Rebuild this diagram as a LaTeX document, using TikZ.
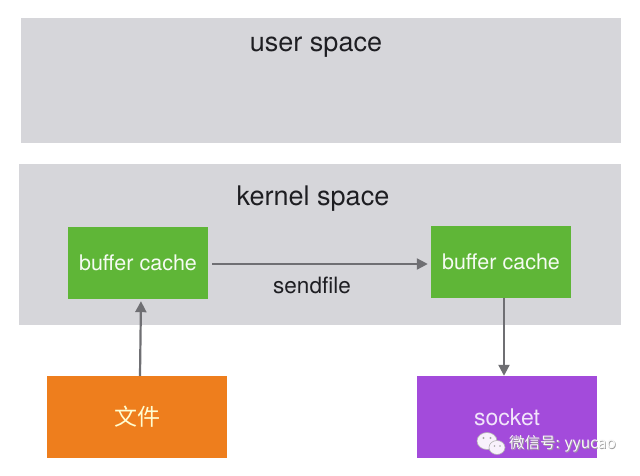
\documentclass[tikz,border=0pt]{standalone}
\usepackage{fontspec}
\setmainfont{TeX Gyre Heros}
\newfontfamily\cjk{Noto Sans CJK SC}
\usetikzlibrary{arrows.meta}

\definecolor{spacegray}{HTML}{D6D6DA}
\definecolor{cachegreen}{HTML}{5FB637}
\definecolor{fileorange}{HTML}{EE7E1D}
\definecolor{sockpurple}{HTML}{A34BDB}
\definecolor{arrowgray}{HTML}{6F6F73}
\definecolor{labeldark}{HTML}{1E1E22}

\tikzset{
  region/.style={rectangle, fill=spacegray, inner sep=0pt},
  regionlabel/.style={text=labeldark, font=\fontsize{27}{29}\selectfont},
  cachebox/.style={rectangle, fill=cachegreen, inner sep=0pt,
    minimum width=140pt, minimum height=72pt,
    text=white!94!cachegreen, font=\fontsize{21.5}{24}\selectfont},
  endbox/.style={rectangle, inner sep=0pt,
    minimum width=180pt, minimum height=82pt},
  flow/.style={draw=arrowgray, line width=2.2pt,
    -{Triangle[length=11pt,width=11pt]}},
  flowlabel/.style={text=labeldark, font=\fontsize{22.5}{24}\selectfont},
  marktext/.style={anchor=west, inner sep=0pt,
    font=\cjk\fontsize{15.5}{17}\selectfont},
}

\begin{document}
\begin{tikzpicture}[x=1pt, y=-1pt]
  \useasboundingbox[fill=white] (0,0) rectangle (640,476);

  % user and kernel regions
  \node[region, minimum width=600pt, minimum height=125pt] (user) at (321,80.5) {};
  \node[regionlabel] (userlabel) at (316,47) {user space};
  \node[region, minimum width=602pt, minimum height=161pt] (kernel) at (320,244.5) {};
  \node[regionlabel] (kernellabel) at (313,199) {kernel space};

  % page caches inside the kernel
  \node[cachebox] (cacheA) at (138,263) {buffer cache};
  \node[cachebox] (cacheB) at (501,261.5) {buffer cache};

  % source file and destination socket
  \node[endbox, fill=fileorange, text=white!82!yellow,
        font=\cjk\fontsize{23}{26}\selectfont] (file) at (137,417) {文件};
  \node[endbox, fill=sockpurple, text=white!85!sockpurple,
        font=\fontsize{23}{26}\selectfont] (sock) at (507,417) {socket};

  % data path
  \draw[flow, shorten >=2pt] ([xshift=3pt]file.north) -- ([xshift=3pt]cacheA.south);
  \draw[flow, shorten <=4pt, shorten >=3pt]
    ([yshift=-1pt]cacheA.east) -- ([yshift=-1pt]cacheA.east -| cacheB.west);
  \node[flowlabel] (sendlabel) at (312,285) {sendfile};
  \draw[flow] ([xshift=3pt]cacheB.south) -- ([xshift=-3pt]sock.north);

  % account watermark
  \begin{scope}[draw=gray!60, fill=white!92!sockpurple, line width=0.6pt]
    \filldraw (487,441) ellipse [x radius=10, y radius=8.5];
    \filldraw (497,447.5) ellipse [x radius=8, y radius=7];
  \end{scope}
  \fill[gray!70] (483.5,438) circle (1.1pt) (490.5,438) circle (1.1pt);
  \fill[gray!70] (494.5,446) circle (0.9pt) (500,446) circle (0.9pt);
  \node[marktext, text=gray!75] (markshadow) at (509.8,444.8) {微信号: yyucao};
  \node[marktext, text=white!95!gray] (mark) at (509,444) {微信号: yyucao};
\end{tikzpicture}
\end{document}
